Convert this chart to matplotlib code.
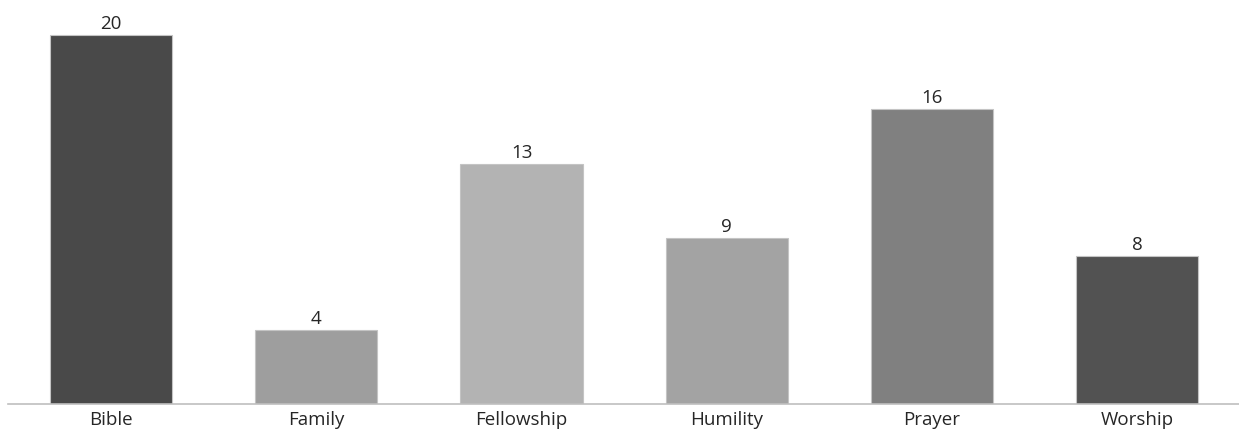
import matplotlib.pyplot as plt

categories = ['Bible', 'Family', 'Fellowship', 'Humility', 'Prayer', 'Worship']
counts = [20, 4, 13, 9, 16, 8]
bar_colors = ['#494949', '#9e9e9e', '#b3b3b3', '#a3a3a3', '#808080', '#525252']

plt.rcParams['font.family'] = ['Open Sans', 'DejaVu Sans']

fig = plt.figure(figsize=(12.39, 4.37), dpi=100)
ax = fig.add_axes([8.4 / 1239, 33 / 437, 1231.6 / 1239, 387.5 / 437])

x = range(len(categories))
bars = ax.bar(x, counts, width=0.595, color=bar_colors, edgecolor='#c4c4c4', linewidth=0.8)
for b, v in zip(bars, counts):
    ax.text(b.get_x() + b.get_width() / 2, v + 0.12, str(v), ha='center', va='bottom',
            fontsize=13.5, color='#262626')

ax.set_xlim(-0.5, len(categories) - 0.5)
ax.set_ylim(0, 21)
ax.set_xticks(list(x))
ax.set_xticklabels(categories, fontsize=13.5, color='#262626')
ax.tick_params(axis='x', length=0, pad=5)
ax.set_yticks([])
for side in ['top', 'right', 'left']:
    ax.spines[side].set_visible(False)
ax.spines['bottom'].set_color('#bfbfbf')
ax.spines['bottom'].set_linewidth(1.2)

plt.savefig('out.png', dpi=100)
